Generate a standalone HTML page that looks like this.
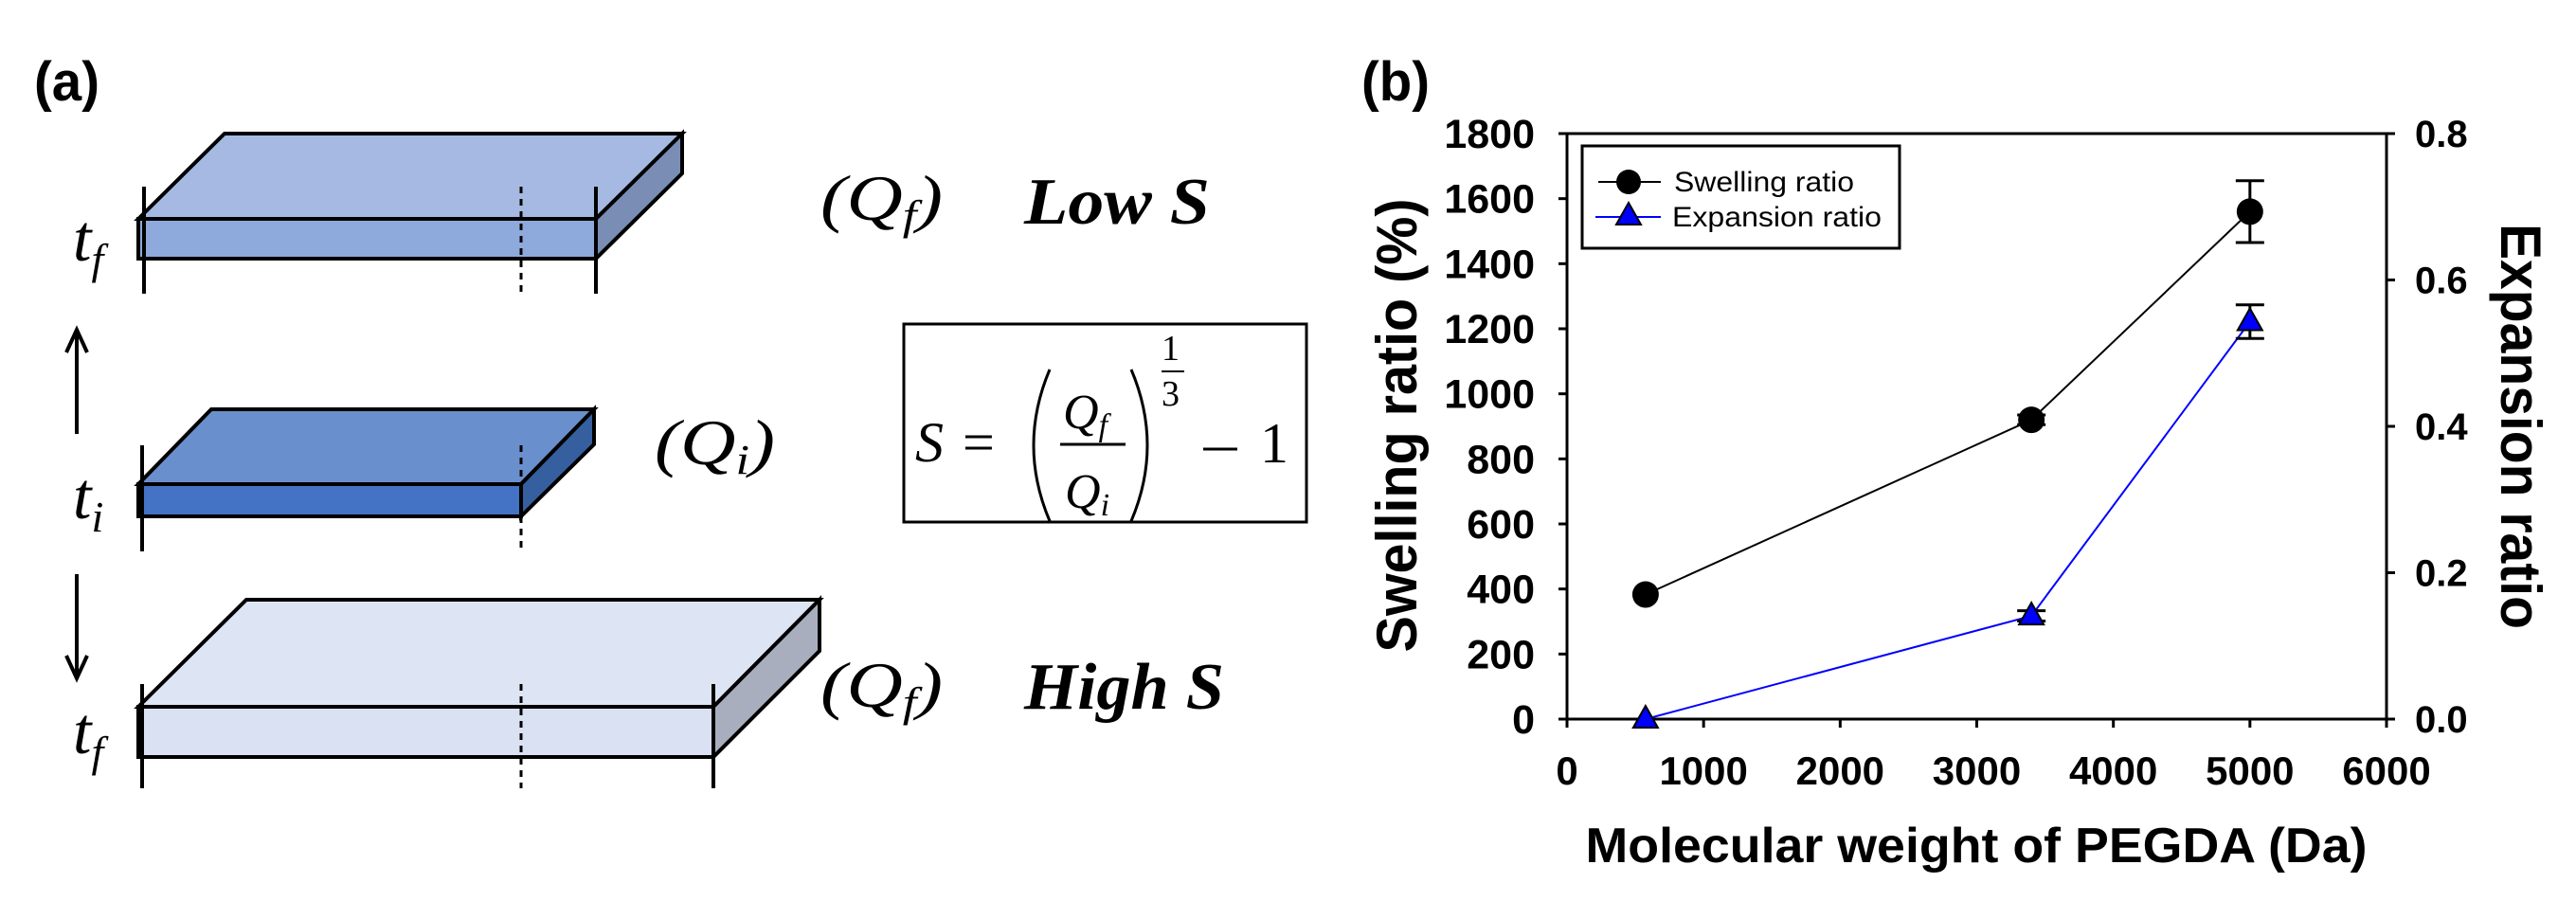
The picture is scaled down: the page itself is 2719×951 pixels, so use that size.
<!DOCTYPE html>
<html><head><meta charset="utf-8"><style>
html,body{margin:0;padding:0;background:#fff;}
svg{display:block;}
.ax{font-family:"Liberation Sans",Arial,sans-serif;font-weight:bold;}
.m{font-family:"Liberation Serif","DejaVu Serif",serif;font-style:italic;}
.mr{font-family:"Liberation Serif","DejaVu Serif",serif;}
</style></head><body>
<svg id="fig" width="2719" height="951" viewBox="0 0 2719 951" xmlns="http://www.w3.org/2000/svg">
<rect width="2719" height="951" fill="#fff"/>
<g>
<text x="36" y="106" class="ax" font-size="58" font-weight="bold" textLength="69" lengthAdjust="spacingAndGlyphs">(a)</text>

<g stroke="#000" stroke-width="4" stroke-linejoin="miter">
<polygon points="146,231 237,141 720,141 629,231" fill="#a6b9e2"/>
<polygon points="629,231 720,141 720,183 629,273" fill="#7a8db5"/>
<rect x="146" y="231" width="483" height="42" fill="#8eaadc"/>
<line x1="152" y1="197" x2="152" y2="310"/>
<line x1="629" y1="197" x2="629" y2="310"/>
<line x1="550" y1="197" x2="550" y2="310" stroke-dasharray="7,6" stroke-width="3"/>
</g>
<text x="77" y="275" class="m" font-size="70">t<tspan font-size="46" dy="14">f</tspan></text>

<g stroke="#000" stroke-width="4" fill="none">
<line x1="81" y1="458" x2="81" y2="350"/>
<polyline points="70,372 81,348 92,372"/>
</g>

<g stroke="#000" stroke-width="4">
<polygon points="146,511 223,432 627,432 550,511" fill="#6a8fcd"/>
<polygon points="550,511 627,432 627,469 550,545" fill="#365f9f"/>
<rect x="146" y="511" width="404" height="34" fill="#4472c4"/>
<line x1="150" y1="470" x2="150" y2="582"/>
<line x1="550" y1="545" x2="550" y2="582" stroke-dasharray="7,6" stroke-width="3"/>
<line x1="550" y1="470" x2="550" y2="508" stroke-dasharray="7,6" stroke-width="3"/>
</g>
<text x="77" y="547" class="m" font-size="70">t<tspan font-size="46" dy="14">i</tspan></text>

<g stroke="#000" stroke-width="4" fill="none">
<line x1="81" y1="606" x2="81" y2="714"/>
<polyline points="70,692 81,716 92,692"/>
</g>

<g stroke="#000" stroke-width="4">
<polygon points="146,746 260,633 865,633 753,746" fill="#dde4f3"/>
<polygon points="753,746 865,633 865,687 753,799" fill="#a9aebf"/>
<rect x="146" y="746" width="607" height="53" fill="#d9e1f2"/>
<line x1="150" y1="722" x2="150" y2="832"/>
<line x1="753" y1="722" x2="753" y2="832"/>
<line x1="550" y1="722" x2="550" y2="832" stroke-dasharray="7,6" stroke-width="3"/>
</g>
<text x="77" y="795" class="m" font-size="70">t<tspan font-size="46" dy="14">f</tspan></text>

<text x="866" y="232" class="m" font-size="68" textLength="129" lengthAdjust="spacingAndGlyphs">(Q<tspan font-size="44" dy="10">f</tspan><tspan dy="-10">)</tspan></text>
<text x="1081" y="236" class="m" font-size="70" font-weight="bold" textLength="196" lengthAdjust="spacingAndGlyphs">Low S</text>
<text x="691" y="490" class="m" font-size="68" textLength="127" lengthAdjust="spacingAndGlyphs">(Q<tspan font-size="44" dy="10">i</tspan><tspan dy="-10">)</tspan></text>
<text x="866" y="746" class="m" font-size="68" textLength="129" lengthAdjust="spacingAndGlyphs">(Q<tspan font-size="44" dy="10">f</tspan><tspan dy="-10">)</tspan></text>
<text x="1081" y="748" class="m" font-size="70" font-weight="bold" textLength="211" lengthAdjust="spacingAndGlyphs">High S</text>

<g>
<rect x="954" y="342" width="425" height="209" fill="#fff" stroke="#000" stroke-width="3"/>
<text x="966" y="487" class="m" font-size="60">S</text>
<text x="1016" y="487" class="mr" font-size="60">=</text>
<path d="M1108,390 Q1074,470 1108,550" fill="none" stroke="#000" stroke-width="3"/>
<path d="M1194,390 Q1228,470 1194,550" fill="none" stroke="#000" stroke-width="3"/>
<text x="1122" y="452" class="m" font-size="52">Q<tspan font-size="34" dy="8">f</tspan></text>
<line x1="1119" y1="469" x2="1188" y2="469" stroke="#000" stroke-width="3"/>
<text x="1124" y="536" class="m" font-size="52">Q<tspan font-size="34" dy="8">i</tspan></text>
<text x="1226" y="380" class="mr" font-size="38">1</text>
<line x1="1226" y1="392" x2="1250" y2="392" stroke="#000" stroke-width="2"/>
<text x="1226" y="428" class="mr" font-size="38">3</text>
<line x1="1270" y1="474" x2="1306" y2="474" stroke="#000" stroke-width="3"/>
<text x="1330" y="488" class="mr" font-size="60">1</text>
</g>
</g>

<text x="1437" y="106" class="ax" font-size="58" textLength="72" lengthAdjust="spacingAndGlyphs">(b)</text>
<g id="chart"></g>
</svg>
<script>
const xTicks = [0, 1000, 2000, 3000, 4000, 5000, 6000];
const yLeftTicks = [0, 200, 400, 600, 800, 1000, 1200, 1400, 1600, 1800];
const yRightTicks = ["0.0", "0.2", "0.4", "0.6", "0.8"];
const mw = [575, 3400, 5000];
const swelling = [383, 920, 1560];
const swellingErr = [0, 15, 95];
const expansion = [0.0, 0.141, 0.543];
const expansionErr = [0, 0.007, 0.023];

const NS = "http://www.w3.org/2000/svg";
const L = 1654, R = 2519, T = 141, B = 759;
const sx = v => L + (v - 0) / 6000 * (R - L);
const syL = v => B - v / 1800 * (B - T);
const syR = v => B - v / 0.8 * (B - T);
const g = document.getElementById('chart');
function mk(tag, attrs, parent) {
  const e = document.createElementNS(NS, tag);
  for (const k in attrs) e.setAttribute(k, attrs[k]);
  (parent || g).appendChild(e);
  return e;
}
let e = mk('rect', {x: L, y: T, width: R - L, height: B - T, fill: 'none', stroke: '#000', 'stroke-width': 3});



xTicks.forEach(v => {
  const x = sx(v);
  const t = mk('line', {x1: x, y1: B, x2: x, y2: B + 9, stroke: '#000', 'stroke-width': 3});
  
  
  const lb = mk('text', {x: x, y: 828, 'text-anchor': 'middle', class: 'ax', 'font-size': 42});
  lb.textContent = v;
  
  
});
yLeftTicks.forEach(v => {
  const y = syL(v);
  const t = mk('line', {x1: L - 9, y1: y, x2: L, y2: y, stroke: '#000', 'stroke-width': 3});
  
  
  const lb = mk('text', {x: 1620, y: y + 15, 'text-anchor': 'end', class: 'ax', 'font-size': 43});
  lb.textContent = v;
  
  
});
yRightTicks.forEach(s => {
  const y = syR(parseFloat(s));
  const t = mk('line', {x1: R, y1: y, x2: R + 9, y2: y, stroke: '#000', 'stroke-width': 3});
  
  
  const lb = mk('text', {x: 2549, y: y + 14, class: 'ax', 'font-size': 40});
  lb.textContent = s;
  
  
});
e = mk('text', {x: 2086, y: 910, 'text-anchor': 'middle', class: 'ax', 'font-size': 52, textLength: 825, lengthAdjust: 'spacingAndGlyphs'});
e.textContent = 'Molecular weight of PEGDA (Da)';


e = mk('text', {x: 0, y: 0, transform: 'translate(1495,449) rotate(-90)', 'text-anchor': 'middle', class: 'ax', 'font-size': 60, textLength: 479, lengthAdjust: 'spacingAndGlyphs'});
e.textContent = 'Swelling ratio (%)';


e = mk('text', {x: 0, y: 0, transform: 'translate(2640,450) rotate(90)', 'text-anchor': 'middle', class: 'ax', 'font-size': 60, textLength: 428, lengthAdjust: 'spacingAndGlyphs'});
e.textContent = 'Expansion ratio';



const swPts = mw.map((m, i) => sx(m) + ',' + syL(swelling[i])).join(' ');
e = mk('polyline', {points: swPts, fill: 'none', stroke: '#000', 'stroke-width': 2});


const exPts = mw.map((m, i) => sx(m) + ',' + syR(expansion[i])).join(' ');
e = mk('polyline', {points: exPts, fill: 'none', stroke: '#0000ff', 'stroke-width': 2});



function errBar(x, yTop, yBot, name) {
  const eg = mk('g', {stroke: '#000', 'stroke-width': 3});
  
  
  mk('line', {x1: x, y1: yTop, x2: x, y2: yBot}, eg);
  mk('line', {x1: x - 15, y1: yTop, x2: x + 15, y2: yTop}, eg);
  mk('line', {x1: x - 15, y1: yBot, x2: x + 15, y2: yBot}, eg);
}
function tri(cx, cy, parent) {
  return mk('polygon', {points: `${cx},${cy - 14} ${cx - 13},${cy + 9} ${cx + 13},${cy + 9}`, fill: '#0000ff', stroke: '#000', 'stroke-width': 2}, parent);
}
mw.forEach((m, i) => {
  const x = sx(m);
  if (swellingErr[i] > 0) errBar(x, syL(swelling[i] + swellingErr[i]), syL(swelling[i] - swellingErr[i]), 'swelling-error-bar');
  const c = mk('circle', {cx: x, cy: syL(swelling[i]), r: 14, fill: '#000'});
  
  
  if (expansionErr[i] > 0) errBar(x, syR(expansion[i] + expansionErr[i]), syR(expansion[i] - expansionErr[i]), 'expansion-error-bar');
  const t = tri(x, syR(expansion[i]));
  
  
});

const lg = mk('g', {});


mk('rect', {x: 1670, y: 154, width: 335, height: 108, fill: '#fff', stroke: '#000', 'stroke-width': 3}, lg);
e = mk('g', {}, lg);


mk('line', {x1: 1687, y1: 192, x2: 1753, y2: 192, stroke: '#000', 'stroke-width': 2}, e);
mk('circle', {cx: 1719, cy: 192, r: 13, fill: '#000'}, e);
let t = mk('text', {x: 1767, y: 202, 'font-family': '"Liberation Sans", Arial, sans-serif', 'font-size': 30, textLength: 190, lengthAdjust: 'spacingAndGlyphs'}, e);
t.textContent = 'Swelling ratio';
e = mk('g', {}, lg);


mk('line', {x1: 1684, y1: 229, x2: 1753, y2: 229, stroke: '#0000ff', 'stroke-width': 2}, e);
tri(1719, 228, e);
t = mk('text', {x: 1765, y: 239, 'font-family': '"Liberation Sans", Arial, sans-serif', 'font-size': 30, textLength: 221, lengthAdjust: 'spacingAndGlyphs'}, e);
t.textContent = 'Expansion ratio';
</script>
</body></html>
